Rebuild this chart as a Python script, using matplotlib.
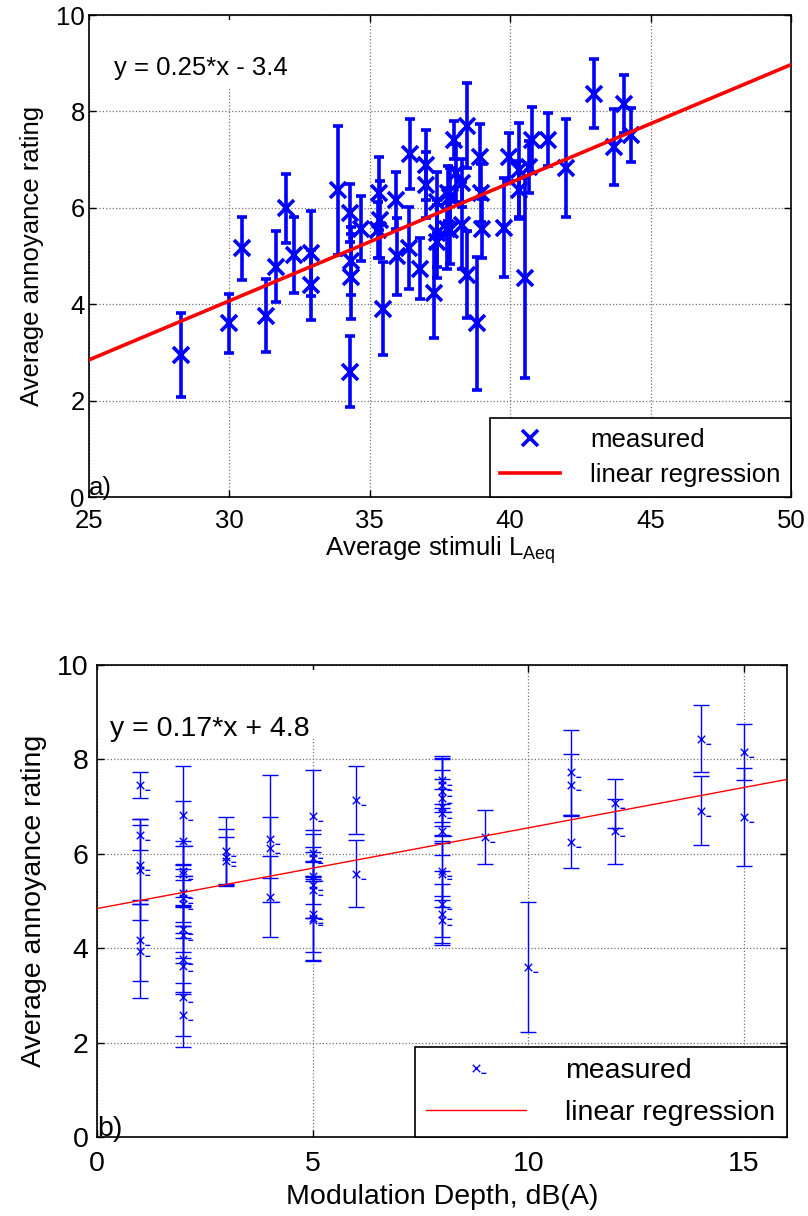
import numpy as np
import matplotlib
matplotlib.use('Agg')
import matplotlib.pyplot as plt
from matplotlib.path import Path
from matplotlib.patches import Rectangle

plt.rcParams['font.family'] = ['Liberation Sans', 'DejaVu Sans']

# ---- data: a) annoyance vs LAeq
laeq = [28.28, 30.00, 30.45, 31.30, 31.66, 32.02, 32.31, 32.91, 32.91, 33.86,
        34.30, 34.33, 34.33, 34.30, 34.67, 35.33, 35.35, 35.30, 35.48, 35.92,
        35.96, 36.41, 36.43, 36.79, 37.00, 37.00, 37.30, 37.40, 37.40, 37.40,
        37.74, 37.80, 38.00, 38.07, 37.86, 37.86, 38.30, 38.27, 38.45, 38.47,
        38.92, 38.95, 38.98, 38.80, 39.78, 39.97, 40.33, 40.33, 40.53, 40.66,
        40.78, 41.33, 41.99, 42.98, 43.70, 44.05, 44.30]
rating_a = [2.95, 3.60, 5.16, 3.76, 4.78, 5.99, 5.02, 5.06, 4.40, 6.36,
            5.89, 4.90, 4.57, 2.60, 5.57, 6.30, 5.75, 5.54, 3.91, 6.16,
            4.99, 5.16, 7.12, 4.74, 6.89, 6.47, 4.23, 6.11, 5.47, 5.30,
            5.57, 6.30, 7.41, 6.72, 6.23, 5.54, 6.52, 5.64, 7.70, 4.61,
            7.06, 6.31, 5.57, 3.60, 5.59, 7.06, 6.78, 6.37, 4.54, 6.85,
            7.41, 7.41, 6.82, 8.37, 7.27, 8.15, 7.51]
err_a = [0.87, 0.62, 0.65, 0.76, 0.74, 0.72, 0.78, 0.88, 0.73, 1.33,
         0.60, 0.70, 0.88, 0.74, 0.68, 0.76, 0.80, 0.58, 0.97, 0.59,
         0.80, 0.85, 0.72, 0.64, 0.72, 0.69, 0.94, 0.64, 0.70, 0.75,
         0.85, 0.57, 0.40, 0.60, 0.60, 0.70, 0.50, 0.90, 0.88, 0.90,
         0.68, 0.60, 0.62, 1.38, 1.02, 0.50, 0.97, 0.61, 2.08, 0.54,
         0.68, 0.55, 1.02, 0.71, 0.79, 0.60, 0.56]
fit_a = (0.245, -3.28)   # slope, intercept
eq_a = 'y = 0.25*x - 3.4'

# ---- data: b) annoyance vs modulation depth
depth = [1]*6 + [2]*13 + [3]*3 + [4]*3 + [5]*9 + [6]*2 + [8]*12 + [9] + [10] + [11]*3 + [12]*2 + [14]*2 + [15]*2
rating_b = [7.46, 6.40, 5.77, 5.66, 4.17, 3.94,
            6.83, 6.28, 5.63, 5.58, 5.16, 5.07, 4.93, 4.41, 4.29, 3.78, 3.62, 2.97, 2.58,
            6.05, 5.93, 5.85,
            6.32, 6.13, 5.09,
            6.81, 6.01, 5.92, 5.54, 5.34, 5.23, 4.72, 4.64, 4.60,
            7.14, 5.58,
            7.57, 7.46, 7.34, 7.18, 6.99, 6.87, 6.48, 5.63, 5.58, 4.93, 4.72, 4.60,
            6.35,
            3.60,
            7.73, 7.46, 6.26,
            7.07, 6.48,
            8.44, 6.91,
            8.16, 6.78]
err_b = [0.28, 0.33, 0.83, 1.07, 0.86, 1.00,
         1.04, 0.84, 0.54, 0.70, 0.60, 0.60, 0.60, 0.50, 0.60, 0.70, 0.60, 0.83, 0.68,
         0.73, 0.60, 0.50,
         1.35, 0.65, 0.86,
         0.96, 0.50, 0.50, 0.60, 0.70, 0.60, 0.80, 0.90, 0.87,
         0.73, 0.71,
         0.51, 0.57, 0.66, 0.60, 0.60, 0.50, 0.50, 0.60, 0.70, 0.70, 0.65, 0.50,
         0.57,
         1.38,
         0.90, 0.65, 0.56,
         0.52, 0.69,
         0.71, 0.73,
         0.60, 1.04]
fit_b = (0.171, 4.84)
eq_b = 'y = 0.17*x + 4.8'

blue = (0, 0, 1)
red = (1, 0, 0)

# x marker with the little dash matlab left behind in panel b
xdash = Path([(-1, -1), (1, 1), (-1, 1), (1, -1), (1.3, -1.3), (2.6, -1.3)],
             [Path.MOVETO, Path.LINETO, Path.MOVETO, Path.LINETO, Path.MOVETO, Path.LINETO])


def style_axes(ax, fs, xpad, ypad):
    ax.grid(True, color='0.45', linestyle=':', linewidth=0.9)
    ax.set_axisbelow(True)
    ax.tick_params(direction='in', top=True, right=True, length=5, width=1,
                   labelsize=fs, colors='black')
    ax.tick_params(axis='x', pad=xpad)
    ax.tick_params(axis='y', pad=ypad)
    for s in ax.spines.values():
        s.set_linewidth(1.2)
        s.set_color('black')


fig = plt.figure(figsize=(8.08, 12.16), dpi=100)

# ---------------- panel a
fs_a = 18.5
ax1 = fig.add_axes([89/808, 1-497/1216, 702/808, 482/1216])
ax1.errorbar(laeq, rating_a, yerr=err_a, fmt='none', ecolor=blue, elinewidth=2.6,
             capsize=3.5, capthick=2.6, zorder=3)
ax1.plot(laeq, rating_a, 'x', color=blue, markersize=11, markeredgewidth=2.6,
         zorder=4, label='measured')
xa = np.array([25, 50])
ax1.plot(xa, fit_a[0]*xa + fit_a[1], color=red, linewidth=2.6, zorder=5,
         label='linear regression')
ax1.set_xlim(25, 50)
ax1.set_ylim(0, 10)
ax1.set_xticks(np.arange(25, 51, 5))
ax1.set_yticks(np.arange(0, 11, 2))
style_axes(ax1, fs_a, 8.5, 3)
ax1.add_patch(Rectangle((25, 8.5), 8, 1.4, facecolor='white', edgecolor='none', zorder=1))
ax1.text(25.9, 8.9, eq_a, fontsize=fs_a, va='center', ha='left', zorder=6)
ax1.text(25.0, 0.05, 'a)', fontsize=fs_a, va='baseline', ha='left', zorder=6)
ax1.set_xlabel('Average stimuli L$_\\mathregular{Aeq}$', fontsize=fs_a, labelpad=1)
ax1.set_ylabel('Average annoyance rating', fontsize=fs_a, labelpad=9)
leg1 = ax1.legend(loc='lower right', fontsize=fs_a, frameon=True, fancybox=False,
                  borderaxespad=0, handlelength=2.3, handletextpad=1.2,
                  labelspacing=0.42, borderpad=0.4, framealpha=1)
leg1.get_frame().set_edgecolor('black')
leg1.get_frame().set_linewidth(1.2)

# ---------------- panel b
fs_b = 20.5
ax2 = fig.add_axes([97/808, 1-1137/1216, 690/808, 472/1216])
ax2.errorbar(depth, rating_b, yerr=err_b, fmt='none', ecolor=blue, elinewidth=1,
             capsize=6, capthick=1, zorder=3)
ax2.plot(depth, rating_b, linestyle='none', marker=xdash, color=blue, markersize=14,
         markeredgewidth=1, markerfacecolor='none', zorder=4, label='measured')
xb = np.array([0, 16])
ax2.plot(xb, fit_b[0]*xb + fit_b[1], color=red, linewidth=1, zorder=5,
         label='linear regression')
ax2.set_xlim(0, 16)
ax2.set_ylim(0, 10)
ax2.set_xticks([0, 5, 10, 15])
ax2.set_yticks(np.arange(0, 11, 2))
style_axes(ax2, fs_b, 10, 6)
ax2.add_patch(Rectangle((0, 8.45), 7, 1.45, facecolor='white', edgecolor='none', zorder=1))
ax2.text(0.3, 8.64, eq_b, fontsize=fs_b, va='center', ha='left', zorder=6)
ax2.text(0.0, 0.02, 'b)', fontsize=fs_b, va='baseline', ha='left', zorder=6)
ax2.set_xlabel('Modulation Depth, dB(A)', fontsize=fs_b, labelpad=5)
ax2.set_ylabel('Average annoyance rating', fontsize=fs_b, labelpad=7)
leg2 = ax2.legend(loc='lower right', fontsize=fs_b, frameon=True, fancybox=False,
                  borderaxespad=0, handlelength=3.5, handletextpad=1.4,
                  labelspacing=0.55, borderpad=0.4, framealpha=1)
leg2.get_frame().set_edgecolor('black')
leg2.get_frame().set_linewidth(1.2)

fig.savefig('out.png', dpi=100)
